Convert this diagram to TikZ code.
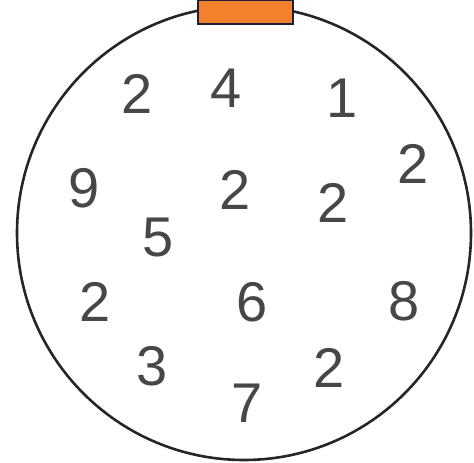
\documentclass[tikz,border=0pt]{standalone}
\usepackage{fontspec}
\setmainfont{Liberation Sans}
\definecolor{tabfill}{HTML}{F2812E}
\definecolor{tabline}{HTML}{1A1F3A}
\begin{document}
\begin{tikzpicture}[x=1pt,y=-1pt,
  num/.style={inner sep=0pt,text=black!72,font=\fontsize{56}{56}\selectfont}]
\useasboundingbox (0,0) rectangle (474,463);
\draw[line width=2.6pt,black!85] (244,233) ellipse [x radius=227, y radius=227];
\node[draw=tabline,fill=tabfill,line width=2.4pt,minimum width=95pt,minimum height=24pt,inner sep=0pt,anchor=north] (tab) at (245.5,-1) {};
\node[num] (n1) at (137,94) {2};
\node[num] (n2) at (226,88) {4};
\node[num] (n3) at (342,98) {1};
\node[num] (n4) at (413,164) {2};
\node[num] (n5) at (84,188) {9};
\node[num] (n6) at (235,190) {2};
\node[num] (n7) at (333,203) {2};
\node[num] (n8) at (158,238) {5};
\node[num] (n9) at (95,302) {2};
\node[num] (n10) at (252,302) {6};
\node[num] (n11) at (404,301) {8};
\node[num] (n12) at (152,366) {3};
\node[num] (n13) at (329,368) {2};
\node[num] (n14) at (247,403) {7};
\end{tikzpicture}
\end{document}
